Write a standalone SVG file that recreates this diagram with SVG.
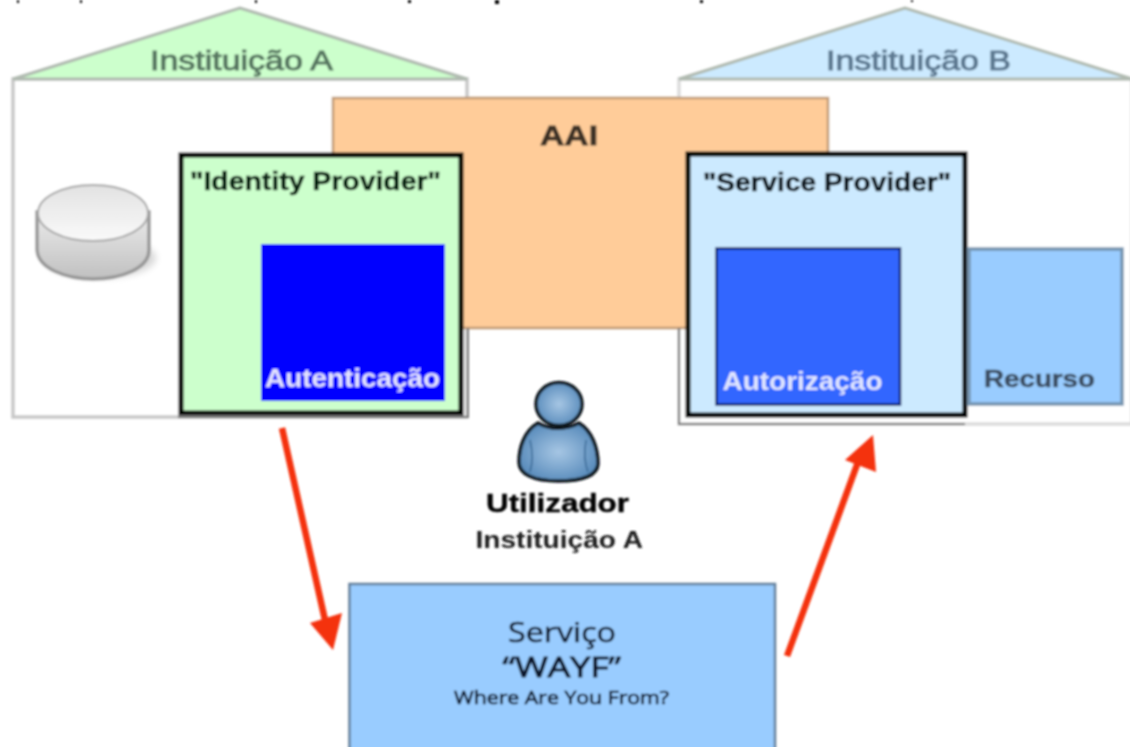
<svg xmlns="http://www.w3.org/2000/svg" width="1130" height="747" viewBox="0 0 1130 747">
<style>
text{font-family:"Liberation Sans",Arial,sans-serif;text-anchor:start}
.b{font-weight:bold}
.w{font-family:"Open Sans","Liberation Sans",sans-serif}
.wall{fill:#fff;stroke:#c8c8c8;stroke-width:3.500}
.roof{stroke:#b0bab0;stroke-width:3}
.prov{stroke:#000;stroke-width:5}
.edge{fill:none;stroke:#777;stroke-width:2}
.arrow{stroke:#f4300c;stroke-width:6.500;fill:none}
.head{fill:#f4300c}
.fold{fill:none;stroke:#3a6a96;stroke-width:1.500}
.person{stroke:#0c141c;stroke-width:3.500}
</style>
<defs>
<filter id="soft" filterUnits="userSpaceOnUse" x="0" y="0" width="1130" height="747"><feGaussianBlur stdDeviation="0.8"/></filter>
<filter id="shadow" filterUnits="userSpaceOnUse" x="0" y="150" width="200" height="170"><feGaussianBlur stdDeviation="3"/></filter>
<linearGradient id="cylTop" x1="0" y1="0" x2="0" y2="1"><stop offset="0" stop-color="#e2e2e2"/><stop offset="1" stop-color="#fafafa"/></linearGradient>
<linearGradient id="cylSide" x1="0" y1="0" x2="0" y2="1"><stop offset="0" stop-color="#ececec"/><stop offset="1" stop-color="#c0c0c0"/></linearGradient>
<radialGradient id="body" cx="0.5" cy="0.5" r="0.6"><stop offset="0" stop-color="#a6c6e4"/><stop offset="1" stop-color="#4f84b6"/></radialGradient>
</defs>
<rect width="1130" height="747" fill="#fff"/>
<g filter="url(#soft)">
<g id="page-edge"><path d="M17 0h2v3h-2zM80 0h2v3h-2zM255 0h2v3h-2zM408 0h3v3h-3zM495 0h4v4h-4zM700 0h3v3h-3zM911 0h2v2h-2z" fill="#000"/></g>
<g id="instituicao-a">
<path class="wall" d="M13 79H467V417H13Z"/>
<path class="roof" d="M13 79L240 8L467 79Z" fill="#ccffcc"/>
<text x="150" y="70" font-size="27" textLength="183" lengthAdjust="spacingAndGlyphs" fill="#567660" stroke="#567660" stroke-width="1">Instituição A</text>
</g>
<g id="instituicao-b">
<path class="wall" d="M679 79H1132V424H679Z" style="stroke:#dcdcdc"/>
<path class="roof" d="M679 79L905 8L1132 79Z" fill="#cceaff"/>
<text x="826" y="70" font-size="27" textLength="185" lengthAdjust="spacingAndGlyphs" fill="#5c7890" stroke="#5c7890" stroke-width="1">Instituição B</text>
</g>
<g id="database">
<ellipse cx="100" cy="258" rx="56" ry="20" fill="#d8d8d8" filter="url(#shadow)"/>
<path d="M37 212V250C38 268 65 279 93 279C122 279 149 268 149 250V212Z" fill="url(#cylSide)" stroke="#989898" stroke-width="3.500"/>
<ellipse cx="93" cy="213" rx="55" ry="28" fill="url(#cylTop)" stroke="#a8a8a8" stroke-width="2"/>
</g>
<g id="aai">
<rect x="333" y="98" width="495" height="230" fill="#ffcc99" stroke="#c09a74" stroke-width="2.500"/>
<text x="540" y="145" font-size="27" class="b" textLength="58" lengthAdjust="spacingAndGlyphs" fill="#3e3226" stroke="#3e3226" stroke-width="0.800">AAI</text>
</g>
<g id="identity-provider">
<path class="edge" d="M178 417H468V328"/>
<rect x="181" y="155" width="280" height="258" fill="#ccffcc" class="prov"/>
<text x="190" y="190" font-size="25" class="b" textLength="251" lengthAdjust="spacingAndGlyphs" fill="#06200f" stroke="#06200f" stroke-width="0.500">"Identity Provider"</text>
</g>
<g id="autenticacao">
<rect x="261" y="244" width="184" height="157" fill="#0000ff"/>
<text x="265" y="387" font-size="25" class="b" textLength="175" lengthAdjust="spacingAndGlyphs" fill="#e4e4ff">Autenticação</text>
</g>
<g id="service-provider">
<path class="edge" d="M679 328V424H965"/>
<rect x="688" y="154" width="277" height="261" fill="#cceaff" class="prov"/>
<text x="703" y="191" font-size="25" class="b" textLength="248" lengthAdjust="spacingAndGlyphs" fill="#08161f" stroke="#08161f" stroke-width="0.500">"Service Provider"</text>
</g>
<g id="autorizacao">
<rect x="716.500" y="248.500" width="183.500" height="156" fill="#3366ff" stroke="#08206c" stroke-width="2.500"/>
<text x="722.500" y="390" font-size="25" class="b" textLength="160" lengthAdjust="spacingAndGlyphs" fill="#e0e6ff">Autorização</text>
</g>
<g id="recurso">
<rect x="969" y="249" width="153" height="155" fill="#99ccff" stroke="#7494b0" stroke-width="3.500"/>
<text x="984" y="387" font-size="24" class="b" textLength="111" lengthAdjust="spacingAndGlyphs" fill="#3c4e62" stroke="#3c4e62" stroke-width="0.500">Recurso</text>
</g>
<g id="utilizador">
<path class="person" d="M538 423C524 431 519 448 519 462C519 474 533 481 558 481C580 481 597 477 598 464C598 448 592 431 579 423C566 430 550 430 538 423Z" fill="url(#body)"/>
<path class="fold" d="M530 440C533 452 533 462 530 472M586 440C584 452 584 462 588 472"/>
<ellipse class="person" cx="559" cy="404" rx="23" ry="21.500" fill="url(#body)"/>
<text x="486" y="512" font-size="26" class="b" textLength="143" lengthAdjust="spacingAndGlyphs" fill="#050505" stroke="#050505" stroke-width="0.400">Utilizador</text>
<text x="475.500" y="548" font-size="24" class="b" textLength="167.500" lengthAdjust="spacingAndGlyphs" fill="#1c1c1c">Instituição A</text>
</g>
<g id="wayf">
<rect x="349.500" y="584" width="425.500" height="170" fill="#99ccff" stroke="#647f9a" stroke-width="2.500"/>
<text x="508" y="642" font-size="28" class="w" textLength="108" lengthAdjust="spacingAndGlyphs" fill="#08162c" stroke="#08162c" stroke-width="0.600">Serviço</text>
<text x="502.500" y="677" font-size="28" class="w" textLength="118.500" lengthAdjust="spacingAndGlyphs" fill="#08162c" stroke="#08162c" stroke-width="1">“WAYF”</text>
<text x="454" y="704" font-size="18" class="w" textLength="215" lengthAdjust="spacingAndGlyphs" fill="#08162c" stroke="#08162c" stroke-width="0.700">Where Are You From?</text>
</g>
<g id="connectors">
<path class="arrow" d="M282 428L325 620"/>
<path class="head" d="M310 623L342 613L333 650Z"/>
<path class="arrow" d="M787 656L858 462"/>
<path class="head" d="M845 460L873 435L876 472Z"/>
</g>
</g>
</svg>
